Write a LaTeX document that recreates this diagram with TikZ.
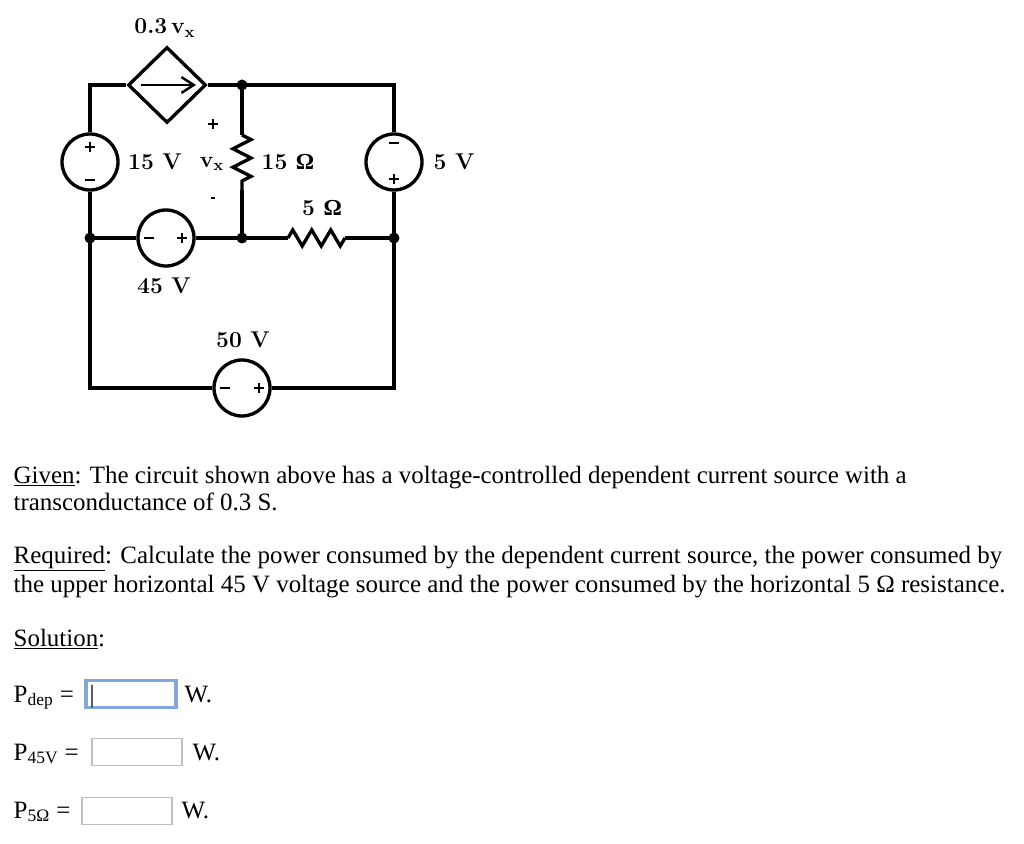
\documentclass[tikz,border=0pt]{standalone}
\usepackage{fontspec}
\setmainfont{Liberation Serif}
\newfontfamily\lm{Latin Modern Roman}
\usetikzlibrary{shapes.geometric,arrows.meta}
\newcommand\myplus[2]{\draw[sign] (#1-5,#2) -- (#1+5,#2) (#1,#2-5) -- (#1,#2+5);}
\newcommand\myminus[2]{\draw[sign] (#1-5,#2) -- (#1+5,#2);}
\begin{document}
\begin{tikzpicture}[x=0.02cm,y=-0.02cm,line width=1.9pt,
  src/.style={circle,draw,minimum size=56*0.02cm,inner sep=0,fill=white},
  lab/.style={font=\lm\bfseries\fontsize{13}{15}\selectfont},
  sign/.style={line width=1.5pt},
  dot/.style={circle,fill,inner sep=0,minimum size=11*0.02cm},
  txt/.style={anchor=base west,inner sep=0,font=\fontsize{14.2}{16}\selectfont},
  box/.style={draw=black!25,line width=0.6pt,minimum width=90*0.02cm,minimum height=27*0.02cm,inner sep=0}]
\useasboundingbox (0,0) rectangle (1024,844);
% nodes
\coordinate (tl) at (90,85); \coordinate (tm) at (242,85); \coordinate (tr) at (394,85);
\coordinate (ml) at (90,238); \coordinate (mm) at (242,238); \coordinate (mr) at (394,238);
\coordinate (bl) at (90,388); \coordinate (br) at (394,388);
\node[diamond,draw,minimum width=78*0.02cm,minimum height=76*0.02cm,inner sep=0,aspect=1] (dep) at (167,85) {};
\node[src] (s15) at (90,162) {};
\node[src] (s5) at (394,162) {};
\node[src] (s45) at (166,238) {};
\node[src] (s50) at (242,388) {};
\coordinate (r1a) at (242,135); \coordinate (r1b) at (242,190);
\coordinate (r2a) at (288,238); \coordinate (r2b) at (345,238);
% wires
\draw (s15) -- (tl) -- (dep.west);
\draw (dep.east) -- (tm) -- (tr) -- (s5);
\draw (s15) -- (ml) -- (s45) -- (mm) -- (r2a);
\draw (r2b) -- (mr) -- (s5);
\draw (tm) -- (r1a);
\draw (r1a) -- ++(9,4.6) -- ++(-18,9.2) -- ++(18,9.2) -- ++(-18,9.2) -- ++(18,9.2) -- ++(-9,4.6) -- (r1b);
\draw (r1b) -- (mm);
\draw (r2a) -- ++(4.75,-8) -- ++(9.5,16) -- ++(9.5,-16) -- ++(9.5,16) -- ++(9.5,-16) -- ++(9.5,16) -- ++(4.75,-8);
\draw (ml) -- (bl) -- (s50) -- (br) -- (mr);
\draw[-{Straight Barb[length=7pt,width=9pt]},line width=1.4pt] (141,85) -- (196,85);
\foreach \c in {tm,ml,mm,mr} \node[dot] at (\c) {};
% polarity
\myplus{90}{147} \myminus{90}{180}
\myminus{394}{143} \myplus{394}{179}
\myminus{149}{238} \myplus{182}{238}
\myminus{225}{388} \myplus{259}{388}
\myplus{213}{124} \draw[sign] (211,198) -- (215,198);
% labels
\node[lab] at (165,28) {0.3\,v\textsubscript{x}};
\node[lab] at (155,162) {15 V};
\node[lab] at (212,164) {v\textsubscript{x}};
\node[lab] at (288,162) {15 {\rmfamily\bfseries Ω}};
\node[lab] at (454,162) {5 V};
\node[lab] at (322,208) {5 {\rmfamily\bfseries Ω}};
\node[lab] at (164,286) {45 V};
\node[lab] at (243,340) {50 V};
% text
\node[txt] at (12,483) {\underline{Given}: The circuit shown above has a voltage-controlled dependent current source with a};
\node[txt] at (12,510) {transconductance of 0.3 S.};
\node[txt] at (12,563) {\underline{Required}: Calculate the power consumed by the dependent current source, the power consumed by};
\node[txt] at (12,592) {the upper horizontal 45 V voltage source and the power consumed by the horizontal 5 Ω resistance.};
\node[txt] at (12,646) {\underline{Solution}:};
\node[txt] at (12,702) {P\textsubscript{dep} =};
\node[box,draw=cyan!50!blue!50,line width=1.8pt] (b1) at (131,694) {};
\node[txt] at (88,702) {|};
\node[txt] at (183,702) {W.};
\node[txt] at (12,760) {P\textsubscript{45V} =};
\node[box] (b2) at (137,752) {};
\node[txt] at (191,760) {W.};
\node[txt] at (12,818) {P\textsubscript{5Ω} =};
\node[box] (b3) at (127,811) {};
\node[txt] at (180,818) {W.};
\end{tikzpicture}
\end{document}
